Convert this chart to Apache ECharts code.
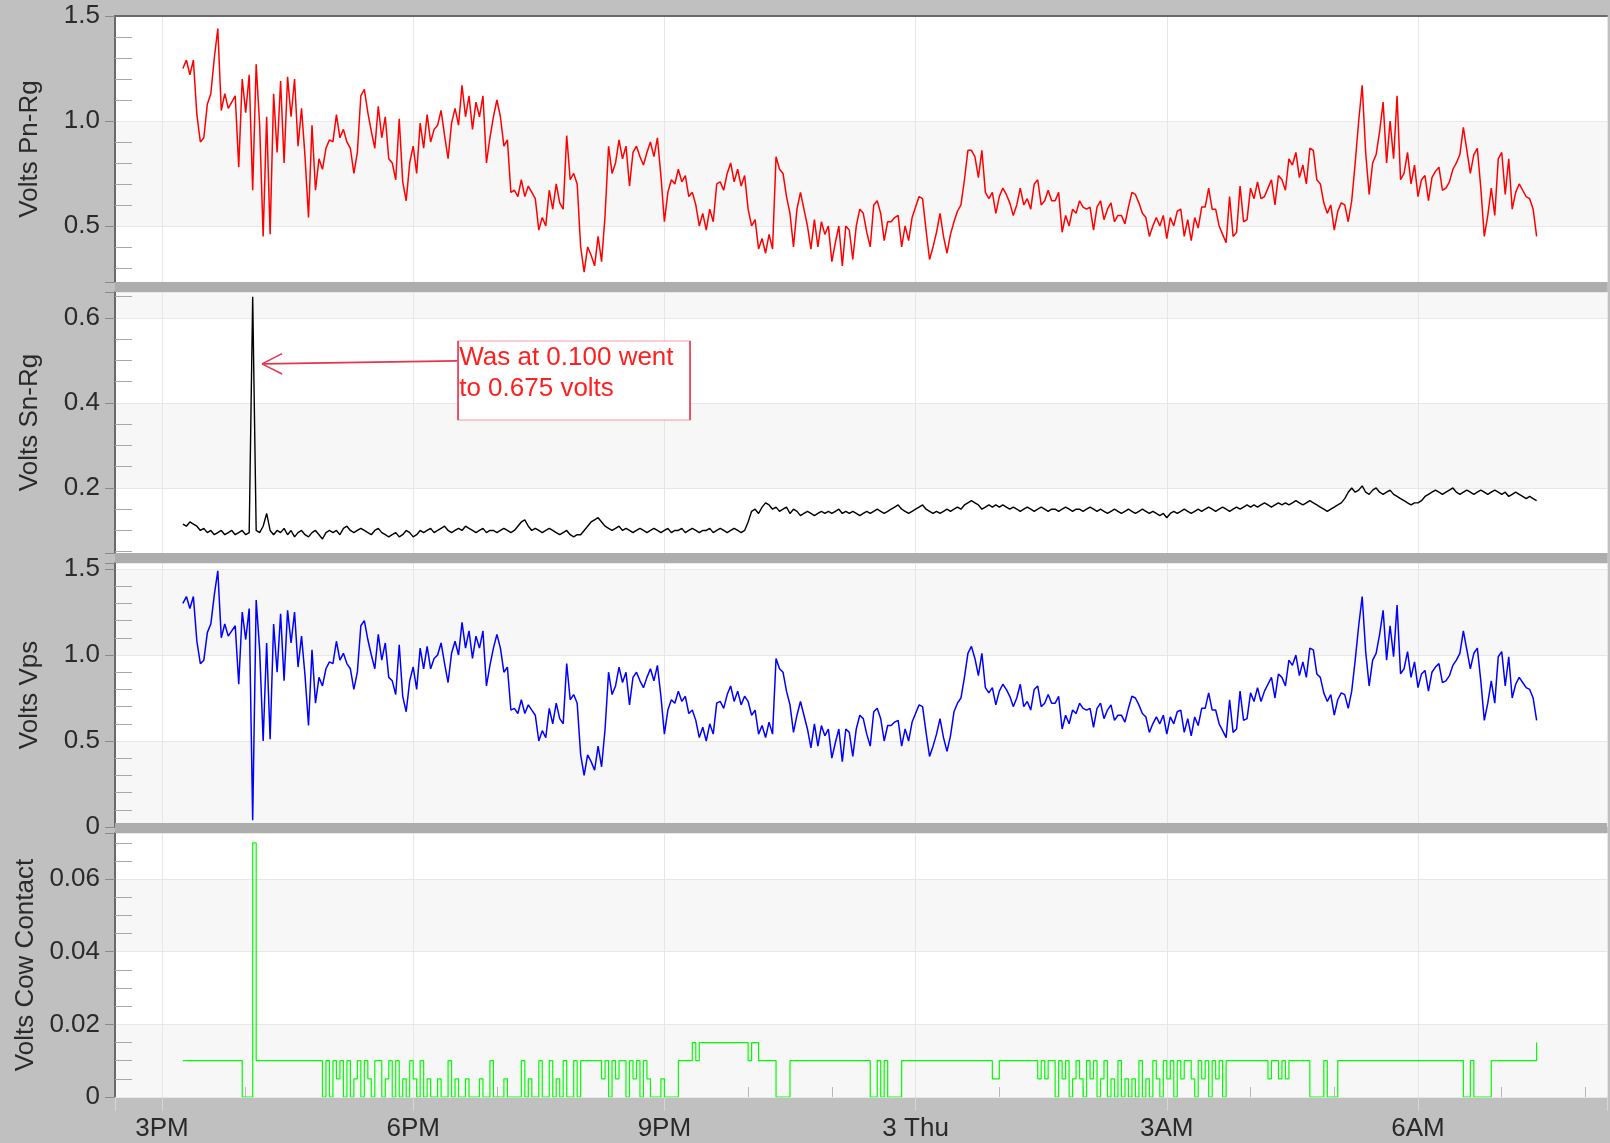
<!DOCTYPE html>
<html><head><meta charset="utf-8">
<script src="https://cdn.jsdelivr.net/npm/echarts@6/dist/echarts.min.js"></script>
<style>html,body{margin:0;padding:0;background:#c0c0c0;}#c{width:1610px;height:1143px;}</style>
</head><body><div id="c"></div><script>
// x axis: hours since midnight of the 2nd
const tickHours = [15, 18, 21, 24, 27, 30];
const tickLabels = ['3PM', '6PM', '9PM', '3 Thu', '3AM', '6AM'];
const T0 = 15.25;          // first sample time (hours)
const STEP = 2.5 / 60;     // sampling step (hours)

const pnRg = [
1.25,1.29,1.22,1.29,1.03,0.90,0.92,1.08,1.13,1.30,
1.44,1.05,1.13,1.06,1.09,1.12,0.78,1.20,1.04,1.22,
0.67,1.27,0.98,0.45,1.02,0.46,1.13,0.85,1.19,0.80,
1.21,1.02,1.20,0.88,1.06,0.83,0.54,0.98,0.67,0.82,
0.77,0.87,0.91,0.90,1.03,0.92,0.96,0.90,0.87,0.75,
0.85,1.12,1.15,1.04,0.95,0.87,1.07,0.92,1.02,0.82,
0.80,0.72,1.01,0.71,0.62,0.80,0.88,0.75,0.99,0.87,
1.03,0.90,0.96,0.98,1.05,0.93,0.82,0.99,1.06,0.98,
1.17,1.02,1.12,0.96,1.09,1.02,1.12,0.80,0.92,1.02,
1.10,1.02,0.88,0.91,0.66,0.67,0.64,0.72,0.64,0.69,
0.66,0.63,0.48,0.54,0.50,0.67,0.58,0.70,0.61,0.58,
0.93,0.72,0.75,0.70,0.40,0.28,0.40,0.36,0.31,0.45,
0.33,0.55,0.88,0.75,0.80,0.91,0.82,0.88,0.69,0.85,
0.88,0.83,0.79,0.85,0.90,0.83,0.92,0.74,0.52,0.66,
0.72,0.70,0.77,0.71,0.74,0.64,0.66,0.60,0.50,0.56,
0.48,0.58,0.52,0.70,0.71,0.67,0.75,0.80,0.71,0.77,
0.69,0.74,0.58,0.50,0.53,0.39,0.44,0.37,0.46,0.39,
0.83,0.77,0.75,0.64,0.56,0.40,0.58,0.66,0.58,0.50,
0.39,0.53,0.40,0.52,0.46,0.50,0.33,0.42,0.50,0.31,
0.50,0.48,0.34,0.50,0.58,0.56,0.47,0.40,0.60,0.62,
0.56,0.43,0.52,0.52,0.54,0.55,0.40,0.50,0.43,0.54,
0.59,0.64,0.63,0.48,0.34,0.40,0.47,0.56,0.45,0.37,
0.46,0.52,0.57,0.60,0.72,0.86,0.86,0.83,0.73,0.86,
0.66,0.63,0.66,0.56,0.64,0.68,0.65,0.61,0.55,0.60,
0.68,0.60,0.63,0.58,0.70,0.72,0.60,0.62,0.67,0.62,
0.62,0.66,0.47,0.55,0.50,0.58,0.56,0.62,0.59,0.58,
0.59,0.48,0.59,0.62,0.53,0.58,0.61,0.52,0.55,0.55,
0.51,0.59,0.66,0.65,0.61,0.56,0.54,0.45,0.50,0.54,
0.50,0.55,0.44,0.54,0.50,0.57,0.58,0.45,0.53,0.43,
0.54,0.49,0.59,0.59,0.68,0.58,0.58,0.50,0.46,0.42,
0.64,0.45,0.47,0.69,0.52,0.53,0.68,0.63,0.71,0.63,
0.64,0.68,0.72,0.60,0.74,0.72,0.67,0.82,0.79,0.85,
0.73,0.79,0.70,0.87,0.86,0.72,0.70,0.61,0.56,0.60,
0.48,0.57,0.61,0.60,0.52,0.62,0.80,1.00,1.17,0.85,
0.65,0.80,0.84,0.95,1.09,0.80,1.00,0.82,1.12,0.72,
0.75,0.85,0.70,0.79,0.64,0.72,0.74,0.62,0.73,0.76,
0.78,0.67,0.68,0.71,0.77,0.80,0.84,0.97,0.86,0.75,
0.84,0.87,0.68,0.45,0.55,0.68,0.55,0.82,0.85,0.65,
0.82,0.58,0.66,0.70,0.67,0.64,0.63,0.58,0.45
];

const snRg = [
0.115,0.11,0.12,0.115,0.11,0.10,0.105,0.095,0.10,0.09,0.095,0.10,0.09,0.095,0.10,0.09,0.095,0.10,0.09,0.095,
0.65,
0.10,0.095,0.11,0.14,0.10,0.09,0.10,0.095,0.105,0.09,0.10,0.085,0.095,0.10,0.09,0.085,0.095,0.10,0.09,0.08,0.095,
0.10,0.095,0.10,0.09,0.105,0.11,0.10,0.095,0.10,0.105,0.10,0.095,0.09,0.10,0.105,0.095,0.09,0.085,0.09,0.095,0.085,0.09,0.10,0.095,
0.085,0.09,0.10,0.095,0.10,0.105,0.095,0.10,0.105,0.11,0.10,0.095,0.10,0.105,0.10,0.11,0.105,0.10,0.095,0.10,0.105,0.095,0.10,0.10,
0.095,0.10,0.105,0.10,0.095,0.10,0.11,0.12,0.125,0.11,0.10,0.105,0.10,0.095,0.10,0.105,0.10,0.095,0.09,0.095,0.10,0.09,0.085,0.09,
0.09,0.10,0.11,0.12,0.125,0.13,0.12,0.11,0.105,0.10,0.105,0.11,0.10,0.105,0.10,0.095,0.10,0.105,0.10,0.095,0.10,0.105,0.10,0.095,
0.10,0.105,0.095,0.10,0.10,0.105,0.095,0.10,0.105,0.10,0.095,0.10,0.10,0.105,0.095,0.10,0.105,0.10,0.095,0.10,0.105,0.10,0.095,0.10,
0.12,0.145,0.15,0.14,0.155,0.165,0.16,0.15,0.155,0.145,0.15,0.155,0.14,0.15,0.145,0.135,0.14,0.145,0.14,0.135,0.14,0.145,0.14,0.145,
0.14,0.145,0.15,0.14,0.145,0.14,0.145,0.14,0.135,0.14,0.145,0.14,0.145,0.15,0.145,0.14,0.145,0.15,0.155,0.16,0.15,0.145,0.14,0.145,
0.15,0.155,0.16,0.15,0.145,0.14,0.145,0.14,0.145,0.15,0.145,0.15,0.155,0.15,0.16,0.165,0.17,0.165,0.16,0.15,0.155,0.16,0.155,0.16,
0.155,0.16,0.155,0.15,0.155,0.15,0.145,0.15,0.155,0.15,0.145,0.15,0.155,0.15,0.145,0.15,0.15,0.145,0.15,0.155,0.15,0.145,0.15,0.15,
0.145,0.15,0.155,0.15,0.145,0.15,0.145,0.14,0.145,0.15,0.145,0.14,0.145,0.15,0.145,0.14,0.145,0.15,0.145,0.14,0.145,0.14,0.135,0.14,
0.13,0.14,0.145,0.14,0.145,0.15,0.145,0.14,0.145,0.15,0.145,0.15,0.155,0.15,0.145,0.15,0.155,0.15,0.145,0.15,0.155,0.15,0.155,0.16,
0.155,0.16,0.155,0.16,0.165,0.16,0.155,0.16,0.165,0.16,0.165,0.16,0.165,0.17,0.165,0.16,0.165,0.17,0.165,0.16,0.155,0.15,0.145,0.15,
0.155,0.16,0.165,0.175,0.19,0.2,0.19,0.195,0.205,0.19,0.185,0.195,0.2,0.19,0.185,0.19,0.195,0.185,0.18,0.175,0.17,0.165,0.16,0.165,
0.165,0.17,0.18,0.185,0.19,0.195,0.19,0.185,0.19,0.195,0.2,0.19,0.185,0.19,0.195,0.19,0.185,0.19,0.195,0.19,0.185,0.19,0.195,0.19,
0.185,0.19,0.18,0.185,0.19,0.185,0.18,0.175,0.18,0.175,0.17
];

const vps = [
1.30,1.34,1.27,1.34,1.08,0.95,0.97,1.13,1.18,1.35,
1.49,1.10,1.18,1.11,1.14,1.17,0.83,1.25,1.09,1.27,
0.04,1.32,1.03,0.50,1.07,0.51,1.18,0.90,1.24,0.85,
1.26,1.07,1.25,0.93,1.11,0.88,0.59,1.03,0.72,0.87,
0.82,0.92,0.96,0.95,1.08,0.97,1.01,0.95,0.92,0.80,
0.90,1.17,1.20,1.09,1.00,0.92,1.12,0.97,1.07,0.87,
0.85,0.77,1.06,0.76,0.67,0.85,0.93,0.80,1.04,0.92,
1.05,0.92,0.98,1.00,1.07,0.95,0.84,1.01,1.08,1.00,
1.19,1.04,1.14,0.98,1.11,1.04,1.14,0.82,0.94,1.04,
1.12,1.04,0.90,0.93,0.68,0.69,0.66,0.74,0.66,0.71,
0.68,0.65,0.50,0.56,0.52,0.69,0.60,0.72,0.63,0.60,
0.95,0.74,0.77,0.72,0.42,0.30,0.42,0.38,0.33,0.47,
0.35,0.57,0.90,0.77,0.82,0.93,0.84,0.90,0.71,0.87,
0.90,0.85,0.81,0.87,0.92,0.85,0.94,0.76,0.54,0.68,
0.74,0.72,0.79,0.73,0.76,0.66,0.68,0.62,0.52,0.58,
0.50,0.60,0.54,0.72,0.73,0.69,0.77,0.82,0.73,0.79,
0.71,0.76,0.73,0.65,0.68,0.54,0.59,0.52,0.61,0.54,
0.98,0.92,0.90,0.79,0.71,0.55,0.65,0.73,0.65,0.57,
0.46,0.60,0.47,0.59,0.53,0.57,0.40,0.49,0.57,0.38,
0.57,0.55,0.41,0.57,0.65,0.63,0.54,0.47,0.67,0.69,
0.63,0.50,0.59,0.59,0.61,0.62,0.47,0.57,0.50,0.61,
0.66,0.71,0.70,0.55,0.41,0.47,0.54,0.63,0.52,0.44,
0.53,0.67,0.72,0.75,0.87,1.01,1.05,0.98,0.88,1.01,
0.81,0.78,0.81,0.71,0.79,0.83,0.80,0.76,0.70,0.75,
0.83,0.70,0.73,0.68,0.80,0.82,0.70,0.72,0.77,0.72,
0.72,0.76,0.57,0.65,0.60,0.68,0.66,0.72,0.69,0.68,
0.69,0.58,0.69,0.72,0.63,0.68,0.71,0.62,0.65,0.65,
0.61,0.69,0.76,0.75,0.71,0.66,0.64,0.55,0.60,0.64,
0.60,0.65,0.54,0.64,0.60,0.67,0.68,0.55,0.63,0.53,
0.64,0.59,0.69,0.69,0.78,0.68,0.68,0.60,0.56,0.52,
0.74,0.55,0.57,0.79,0.62,0.63,0.78,0.73,0.81,0.73,
0.79,0.83,0.87,0.75,0.89,0.87,0.82,0.97,0.94,1.00,
0.88,0.96,0.87,1.04,1.03,0.89,0.87,0.78,0.73,0.77,
0.65,0.74,0.78,0.77,0.69,0.79,0.97,1.17,1.34,1.02,
0.82,0.97,1.01,1.12,1.26,0.97,1.17,0.99,1.29,0.89,
0.92,1.02,0.87,0.96,0.81,0.89,0.91,0.79,0.90,0.93,
0.95,0.84,0.85,0.88,0.94,0.97,1.01,1.14,1.03,0.92,
1.01,1.04,0.85,0.62,0.72,0.85,0.72,0.99,1.02,0.82,
0.99,0.75,0.83,0.87,0.84,0.81,0.80,0.75,0.62
];

const cowContact = [
0.01,0.01,0.01,0.01,0.01,0.01,0.01,0.01,0.01,0.01,0.01,0.01,0.01,0.01,0.01,0.01,0.01,
0,0,0,
0.07,
0.01,0.01,0.01,0.01,0.01,0.01,0.01,0.01,0.01,0.01,0.01,0.01,0.01,0.01,0.01,0.01,0.01,0.01,0.01,
0,0.01,0,0.01,0.005,0.01,0,0.01,0,0.005,0.01,0,0.01,0.005,0,0.01,0.01,0,0.005,0.01,0,0.01,0,0.005,0,0.01,0.005,0,0.01,0,0.005,0,
0,0.005,0,0,0.01,0,0.005,0,0,0.005,0,0,0,0.005,0,0,0.01,0,0,0,0.005,0,0,0,0,0.01,0,0.005,0,0,0.01,0,0,0.01,0,0.005,0,0.01,0,0,0.01,0,
0.01,0.01,0.01,0.01,0.01,0.01,
0.005,0.01,0,0.01,0.005,0.01,0.01,0,0.01,0.005,0.01,0,0.01,0.005,
0,0,0,0.005,0,0,0,0,
0.01,0.01,0.01,0.01,0.015,0.01,0.015,
0.015,0.015,0.015,0.015,0.015,0.015,0.015,0.015,0.015,0.015,0.015,0.015,0.015,
0.01,
0.015,0.015,
0.01,0.01,0.01,0.01,0.01,
0,0,0,0,
0.01,0.01,0.01,0.01,0.01,0.01,0.01,0.01,0.01,0.01,0.01,0.01,0.01,0.01,0.01,0.01,0.01,0.01,0.01,0.01,0.01,0.01,0.01,
0,0,0.01,0,0.01,0,0,0,0,
0.01,0.01,0.01,0.01,0.01,0.01,0.01,0.01,0.01,0.01,0.01,0.01,0.01,0.01,0.01,0.01,0.01,0.01,0.01,0.01,0.01,0.01,0.01,0.01,0.01,0.01,
0.005,0.005,
0.01,0.01,0.01,0.01,0.01,0.01,0.01,0.01,0.01,0.01,0.01,
0.005,0.01,0.005,0.01,0.01,0,0.01,0.005,0.01,0,0.005,0.01,0.005,0,0.01,0.005,0.01,0,0.005,0.01,0,0.005,0,0.01,0,0.005,0,0.005,0,0.01,0,0.005,0,0.01,0.005,0,0.01,0.005,0.01,0,0.01,0.005,0.01,0.01,0.005,0,0.01,0.005,0.01,0,0.01,0.005,0.01,0,0.01,0.01,
0.01,0.01,0.01,0.01,0.01,0.01,0.01,0.01,0.01,0.01,0.005,0.01,0.01,0.005,0.01,0.005,0.01,0.01,0.01,0.01,0.01,0.01,
0,0,0,0,0.01,0,0,0,
0.01,0.01,0.01,0.01,0.01,0.01,0.01,0.01,0.01,0.01,0.01,0.01,0.01,0.01,0.01,0.01,0.01,0.01,0.01,0.01,0.01,0.01,0.01,0.01,0.01,0.01,0.01,0.01,0.01,0.01,0.01,0.01,0.01,0.01,0.01,0.01,
0,0,0.01,0,0,0,0,0,
0.01,0.01,0.01,0.01,0.01,0.01,0.01,0.01,0.01,0.01,0.01,0.01,0.01,
0.015
];

// annotation (data coordinates in panel 2)
const annoText = 'Was at 0.100 went\nto 0.675 volts';
const annoArrowFrom = [18.524, 0.499];
const annoArrowTip = [16.195, 0.492];
const annoArrowArmA = [16.434, 0.516];
const annoArrowArmB = [16.434, 0.468];
const annoBoxCenter = [19.921, 0.453];

const yNames = ['Volts Pn-Rg', 'Volts Sn-Rg', 'Volts Vps', 'Volts Cow Contact'];

const X_MIN = 14.439, X_MAX = 32.257;
const FONT = 'Liberation Sans, Arial, sans-serif';
const toPairs = arr => arr.map((v, i) => [T0 + i * STEP, v]);

const gridBoxes = [
  {top: 16, height: 266},
  {top: 292, height: 261},
  {top: 563, height: 264},
  {top: 833, height: 264}
];
const yCfg = [
  {min: 0.233, max: 1.5, split: 3, step: 0.5, minor: 5, dec: 1, colors: ['#ffffff', '#f7f7f7']},
  {min: 0.047, max: 0.661, split: 3, step: 0.2, minor: 4, dec: 1, colors: ['#ffffff', '#f7f7f7']},
  {min: 0, max: 1.535, split: 3, step: 0.5, minor: 5, dec: 1, colors: ['#f7f7f7', '#ffffff']},
  {min: 0, max: 0.0727, split: 4, step: 0.02, minor: 4, dec: 2, colors: ['#f7f7f7', '#ffffff']}
];

const grid = gridBoxes.map(g => ({left: 115, right: 3, top: g.top, height: g.height,
  show: true, backgroundColor: '#ffffff', borderWidth: 0}));

const xAxis = gridBoxes.map((g, i) => ({
  type: 'value', gridIndex: i, min: X_MIN, max: X_MAX, splitNumber: 5,
  position: i === 0 ? 'top' : 'bottom',
  axisLine: {show: i === 0, lineStyle: {color: '#6a6a6a', width: 2}},
  axisTick: {show: i === 3, length: 14, lineStyle: {color: '#d6d6d6'}},
  minorTick: {show: i === 3, splitNumber: 3, length: -10, lineStyle: {color: '#b8b8b8'}},
  splitLine: {show: true, lineStyle: {color: '#e6e6e6', width: 1}},
  axisLabel: {show: i === 3, margin: 19, fontSize: 26, color: '#2a2a2a', fontFamily: FONT,
    showMinLabel: false, showMaxLabel: false,
    formatter: v => {
      const r = Math.round(v);
      const idx = tickHours.indexOf(r);
      return (Math.abs(v - r) < 1e-6 && idx >= 0) ? tickLabels[idx] : '';
    }}
}));

const yAxis = yCfg.map((c, i) => ({
  type: 'value', gridIndex: i, min: c.min, max: c.max, splitNumber: c.split,
  name: yNames[i], nameLocation: 'middle', nameGap: 72,
  nameTextStyle: {fontSize: 26, color: '#2a2a2a', fontFamily: FONT},
  axisLine: {show: true, lineStyle: {color: '#6a6a6a', width: 2}},
  axisTick: {show: true, length: 10, lineStyle: {color: '#8a8a8a'}},
  minorTick: {show: true, splitNumber: c.minor, length: -17, lineStyle: {color: '#a8a8a8'}},
  splitLine: {show: true, lineStyle: {color: '#e8e8e8'}},
  splitArea: {show: true, areaStyle: {color: c.colors}},
  axisLabel: {margin: 15, fontSize: 26, color: '#2a2a2a', fontFamily: FONT,
    formatter: v => {
      const q = v / c.step;
      if (Math.abs(q - Math.round(q)) > 1e-6) return '';
      if (Math.abs(v) < 1e-9) return '0';
      return v.toFixed(c.dec);
    }}
}));

const lineSeries = (idx, data, color, width, extra) => Object.assign({
  type: 'line', xAxisIndex: idx, yAxisIndex: idx, data: toPairs(data),
  showSymbol: false, symbol: 'none', silent: true,
  lineStyle: {color: color, width: width}, itemStyle: {color: color}
}, extra || {});

const option = {
  animation: false,
  backgroundColor: '#c0c0c0',
  grid, xAxis, yAxis,
  series: [
    lineSeries(0, pnRg, '#ff0000', 1.5),
    lineSeries(1, snRg, '#000000', 1.4, {
      markLine: {
        silent: true, animation: false,
        symbol: ['none', 'none'],
        lineStyle: {color: '#e3364c', width: 1.6, type: 'solid'},
        label: {show: false},
        data: [
          [{coord: annoArrowFrom}, {coord: annoArrowTip}],
          [{coord: annoArrowTip}, {coord: annoArrowArmA}],
          [{coord: annoArrowTip}, {coord: annoArrowArmB}]
        ]
      },
      markPoint: {
        silent: true, animation: false,
        symbol: 'rect', symbolSize: [232, 79],
        itemStyle: {color: '#ffffff', borderColor: '#e8384f', borderWidth: 1},
        label: {show: true, position: 'insideTopLeft', distance: 2, formatter: annoText,
          color: '#ff1f1f', fontSize: 26, lineHeight: 31, fontFamily: FONT, align: 'left'},
        data: [{coord: annoBoxCenter}]
      }
    }),
    lineSeries(2, vps, '#0000ff', 1.5),
    lineSeries(3, cowContact, '#00ff00', 1.2, {step: 'end'})
  ],
  graphic: [282, 553, 823].map(y => ({
    type: 'rect', z: 100, silent: true,
    shape: {x: 115, y: y, width: 1492, height: 10},
    style: {fill: '#adadad'}
  }))
};

const chart = echarts.init(document.getElementById('c'), null, {renderer: 'canvas'});
chart.setOption(option);
</script></body></html>
